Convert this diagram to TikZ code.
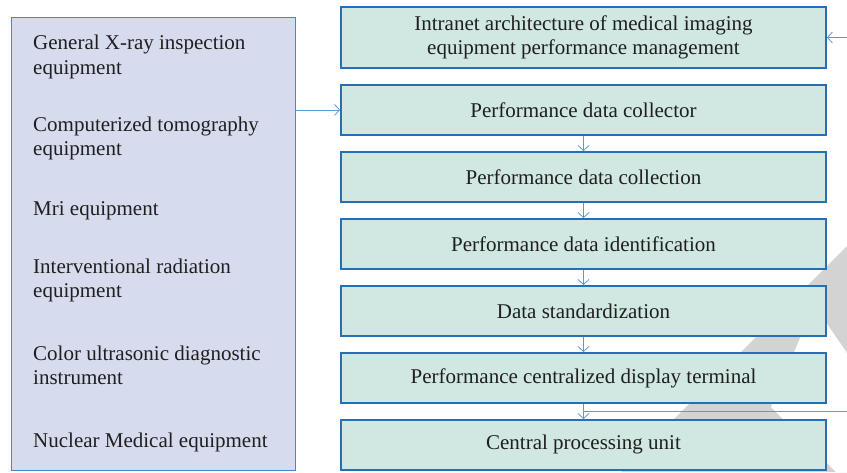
\documentclass[tikz,border=0pt]{standalone}
\usepackage{fontspec}
\setmainfont{Liberation Serif}
\usepackage{tikz}
\usetikzlibrary{arrows.meta,positioning}

\definecolor{mintbox}{RGB}{208,232,225}
\definecolor{lavbox}{RGB}{214,220,238}
\definecolor{boxline}{RGB}{36,112,184}
\definecolor{devline}{RGB}{72,136,200}
\definecolor{flowline}{RGB}{91,155,213}
\definecolor{markgray}{RGB}{211,211,211}

\begin{document}
\begin{tikzpicture}[
			x=1pt, y=-1pt,
			every node/.style={font=\fontsize{21}{24.5}\selectfont, text=black!88},
			stage/.style={draw=boxline, line width=1.8pt, fill=mintbox, minimum width=485pt, minimum height=50pt, inner sep=0pt, align=center},
			device/.style={anchor=west, align=left, inner sep=0pt},
			flow/.style={draw=flowline, line width=0.8pt, -{Straight Barb[length=5pt,width=11pt]}}
			]

			\useasboundingbox (0,0) rectangle (847,472);

			% grey mark in the background
			\fill[markgray] (847,246) -- (621,472) -- (847,472) -- cycle;
			\fill[white] (814,305) -- (771,407) -- (836,472) -- (847,472) -- (847,353) -- cycle;

			\node[draw=devline, line width=1.2pt, fill=lavbox, minimum width=284pt, minimum height=453pt, inner sep=0pt] (devices) at (153.5,244) {};

			\node[device] (xray) at (33,57) {General X-ray inspection\\equipment};
			\node[device] (ct) at (33,138.5) {Computerized tomography\\equipment};
			\node[device] (mri) at (33,211) {Mri equipment};
			\node[device] (interv) at (33,280.5) {Interventional radiation\\equipment};
			\node[device] (ultra) at (33,365.5) {Color ultrasonic diagnostic\\instrument};
			\node[device] (nuclear) at (33,442) {Nuclear Medical equipment};

			\node[stage, minimum height=61.2pt] (intranet) at (583.5,37.5) {Intranet architecture of medical imaging\\equipment performance management};
			\node[stage, below=15pt of intranet] (collector) {Performance data collector};
			\node[stage, below=15.2pt of collector] (collection) {Performance data collection};
			\node[stage, below=15.2pt of collection] (ident) {Performance data identification};
			\node[stage, below=15.2pt of ident] (standard) {Data standardization};
			\node[stage, below=15.2pt of standard] (display) {Performance centralized display terminal};
			\node[stage, below=15.2pt of display] (cpu) {Central processing unit};

			\draw[flow] (devices.east |- collector) -- (collector.west);
			\draw[flow] (collector) -- (collection);
			\draw[flow] (collection) -- (ident);
			\draw[flow] (ident) -- (standard);
			\draw[flow] (standard) -- (display);
			\draw[flow] (display) -- (cpu);

			\coordinate (netin) at (847,37.5);
			\draw[flow] (netin) -- (intranet.east);

			\coordinate (cpuin) at (847,411);
			\draw[flowline, line width=0.8pt] (cpuin) -- (cpuin -| display.south);

\end{tikzpicture}
\end{document}
